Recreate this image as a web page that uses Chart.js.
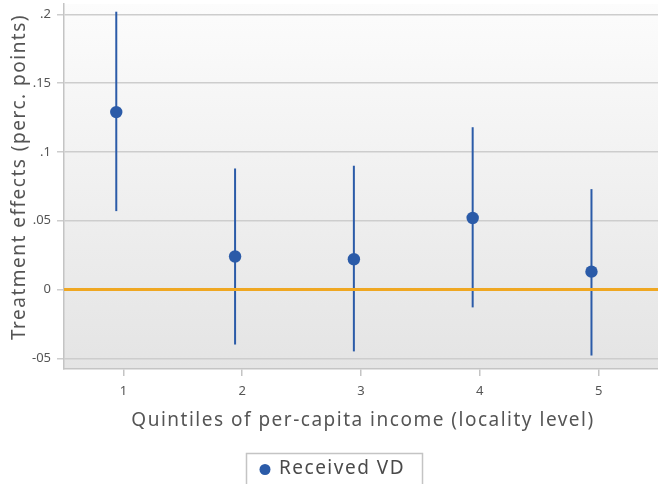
<!DOCTYPE html>
<html>
<head>
<meta charset="utf-8">
<script src="https://cdn.jsdelivr.net/npm/chart.js@4.4.1/dist/chart.umd.min.js"></script>
<style>
  html, body { margin: 0; padding: 0; background: #ffffff; }
  #wrap { width: 658px; height: 484px; position: relative; }
</style>
</head>
<body>
<div id="wrap"><canvas id="chart" width="658" height="484"></canvas></div>
<script>
// Treatment effects by income quintile, with 95% confidence intervals
const quintiles = [1, 2, 3, 4, 5];
const estimates = [0.129, 0.024, 0.022, 0.052, 0.013];
const ciLow    = [0.057, -0.040, -0.045, -0.013, -0.048];
const ciHigh   = [0.202, 0.088, 0.090, 0.118, 0.073];
const yTickValues = [-0.05, 0, 0.05, 0.1, 0.15, 0.2];
const yTickLabels = ['-05', '0', '.05', '.1', '.15', '.2'];
const seriesName = 'Received VD';
const xTitle = 'Quintiles of per-capita income (locality level)';
const yTitle = 'Treatment effects (perc. points)';

// markers sit slightly left of each quintile tick
const markerShift = -0.06;

const BLUE = '#2b5ba8';
const ORANGE = '#efa722';
const TEXT = '#555555';
const FONT = '"Noto Sans", sans-serif';

const points = quintiles.map((q, i) => ({ x: q + markerShift, y: estimates[i] }));

const plotBackground = {
  id: 'plotBackground',
  beforeDraw(chart) {
    const { ctx, chartArea: a } = chart;
    const g = ctx.createLinearGradient(0, a.top, 0, a.bottom);
    g.addColorStop(0, '#fcfcfc');
    g.addColorStop(1, '#e4e4e4');
    ctx.save();
    ctx.fillStyle = g;
    ctx.fillRect(a.left, a.top, a.right - a.left, a.bottom - a.top);
    ctx.restore();
  }
};

const errorBars = {
  id: 'errorBars',
  beforeDatasetsDraw(chart) {
    const { ctx, scales: { x, y }, chartArea: a } = chart;
    ctx.save();
    ctx.strokeStyle = BLUE;
    ctx.lineWidth = 2;
    quintiles.forEach((q, i) => {
      const px = x.getPixelForValue(q + markerShift);
      ctx.beginPath();
      ctx.moveTo(px, y.getPixelForValue(ciLow[i]));
      ctx.lineTo(px, y.getPixelForValue(ciHigh[i]));
      ctx.stroke();
    });
    // reference line at zero
    const y0 = y.getPixelForValue(0);
    ctx.strokeStyle = ORANGE;
    ctx.lineWidth = 3;
    ctx.beginPath();
    ctx.moveTo(a.left, y0);
    ctx.lineTo(a.right, y0);
    ctx.stroke();
    ctx.restore();
  }
};

// axis titles and the boxed legend, in a wide-tracked face
const annotations = {
  id: 'annotations',
  afterDraw(chart) {
    const { ctx, chartArea: a } = chart;
    ctx.save();
    ctx.letterSpacing = '1.5px';
    ctx.font = '19px ' + FONT;
    ctx.fillStyle = TEXT;
    ctx.textBaseline = 'middle';
    ctx.textAlign = 'center';
    ctx.fillText(xTitle, (a.left + a.right) / 2 + 2, 421);

    ctx.save();
    ctx.translate(20, 177);
    ctx.rotate(-Math.PI / 2);
    ctx.fillText(yTitle, 0, 0);
    ctx.restore();

    ctx.strokeStyle = '#c4c4c4';
    ctx.lineWidth = 1.5;
    ctx.strokeRect(246.5, 453.5, 176, 40);
    ctx.fillStyle = BLUE;
    ctx.beginPath();
    ctx.arc(265, 469.5, 5.5, 0, Math.PI * 2);
    ctx.fill();
    ctx.fillStyle = '#4a4a4a';
    ctx.textAlign = 'left';
    ctx.fillText(seriesName, 279, 469);
    ctx.restore();
  }
};

new Chart(document.getElementById('chart'), {
  type: 'scatter',
  data: {
    datasets: [{
      label: seriesName,
      data: points,
      backgroundColor: BLUE,
      borderColor: BLUE,
      pointRadius: 6.2,
      pointHoverRadius: 6.2,
      borderWidth: 0
    }]
  },
  options: {
    responsive: false,
    animation: false,
    events: [],
    layout: { autoPadding: false, padding: { top: 4, right: 0, bottom: 0, left: 0 } },
    plugins: {
      legend: { display: false },
      tooltip: { enabled: false }
    },
    scales: {
      x: {
        type: 'linear',
        min: 0.5,
        max: 5.5,
        afterBuildTicks(scale) { scale.ticks = quintiles.map(v => ({ value: v })); },
        afterFit(scale) {
          scale.height = 115;
          scale.paddingLeft = 0;
          scale.paddingRight = 0;
        },
        grid: {
          drawOnChartArea: false,
          drawTicks: true,
          tickLength: 7,
          color: '#c4c4c4',
          lineWidth: 1.5
        },
        border: { color: '#c4c4c4', width: 1.5 },
        ticks: {
          padding: 7,
          color: TEXT,
          font: { family: FONT, size: 13 },
          callback: v => String(v)
        }
      },
      y: {
        type: 'linear',
        min: -0.0578,
        max: 0.2076,
        afterBuildTicks(scale) { scale.ticks = yTickValues.map(v => ({ value: v })); },
        afterFit(scale) {
          scale.width = 64;
          scale.paddingTop = 0;
          scale.paddingBottom = 0;
        },
        grid: {
          color: '#cdcdcd',
          lineWidth: 1.5,
          tickLength: 7,
          drawTicks: true
        },
        border: { color: '#c4c4c4', width: 1.5 },
        ticks: {
          padding: 6,
          color: TEXT,
          font: { family: FONT, size: 13 },
          callback: (v, i) => yTickLabels[i]
        }
      }
    }
  },
  plugins: [plotBackground, errorBars, annotations]
});
</script>
</body>
</html>
